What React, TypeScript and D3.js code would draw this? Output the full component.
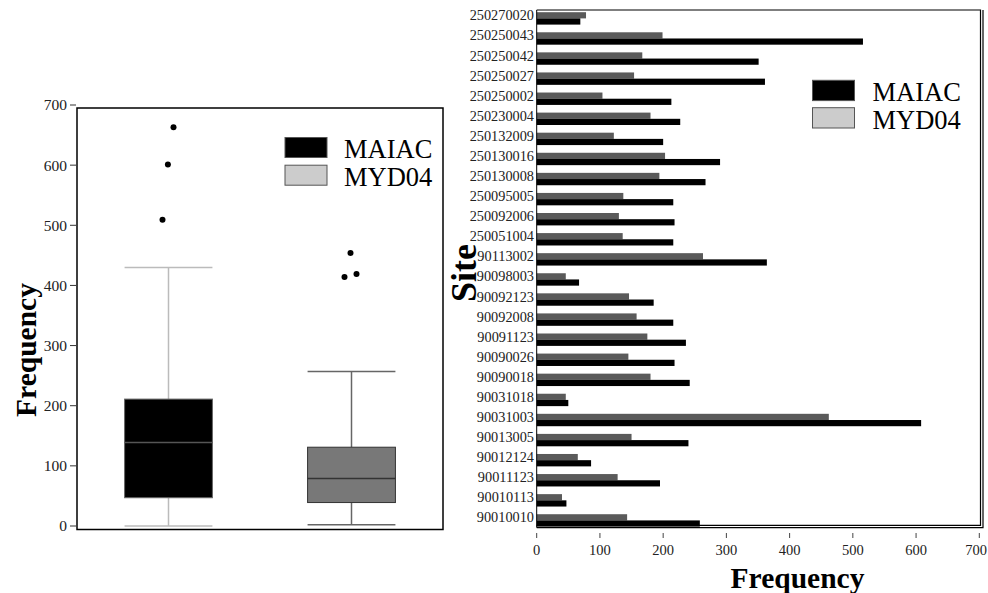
import * as d3 from 'd3'

const sites = [
  '250270020', '250250043', '250250042', '250250027', '250250002', '250230004',
  '250132009', '250130016', '250130008', '250095005', '250092006', '250051004',
  '90113002', '90098003', '90092123', '90092008', '90091123', '90090026',
  '90090018', '90031018', '90031003', '90013005', '90012124', '90011123',
  '90010113', '90010010',
]
const maiacCounts = [
  69, 516, 351, 361, 213, 227, 200, 290, 267, 216, 218, 216,
  364, 67, 185, 216, 236, 218, 242, 50, 608, 240, 86, 195, 47, 258,
]
const myd04Counts = [
  78, 199, 167, 154, 104, 180, 122, 203, 194, 137, 130, 136,
  263, 46, 146, 158, 175, 145, 180, 46, 462, 150, 65, 128, 40, 143,
]

const series = ['MAIAC', 'MYD04']
const whiskerLow = [0, 2]
const q1 = [47, 39]
const median = [139, 79]
const q3 = [211, 131]
const whiskerHigh = [430, 257]
const outliers = [[509, 601, 663], [414, 419, 454]]
const freqTicks = [0, 100, 200, 300, 400, 500, 600, 700]

// styling per series (box plot)
const boxFill = ['#000000', '#787878']
const boxStroke = ['#666666', '#333333']
const medianStroke = ['#555555', '#333333']
const whiskerStroke = ['#bbbbbb', '#666666']
const barFill: Record<string, string> = { MAIAC: '#000000', MYD04: '#5a5a5a' }
const legendFill = ['#000000', '#cccccc']
const outlierJitter = [[-6, -0.6, 5], [-7, 5, -1]]

const serif = '"Liberation Serif", "Times New Roman", serif'
const W = 988

export default function App() {
  // left: box plot
  const bx = d3.scaleBand().domain(series).range([77, 443]).paddingInner(0.52).paddingOuter(0.26)
  const by = d3.scaleLinear().domain([0, 700]).range([526, 105])

  // right: grouped bars
  const rx = d3.scaleLinear().domain([0, 700]).range([536.7, 979.3])
  const ry = d3.scaleBand().domain(sites).range([10, 532.1])
  const sub = d3.scaleBand().domain(['MYD04', 'MAIAC']).range([2.2, 14.6])

  return (
    <svg width={W} height={593} style={{ position: 'absolute', left: 0, top: 0, background: '#fff' }}
      fontFamily={serif}>
      {/* ---------- box plot ---------- */}
      <rect x={77} y={108} width={366} height={421.5} fill="none" stroke="#000" strokeWidth={1.5} />
      {freqTicks.map(t => (
        <g key={t}>
          <line x1={70} x2={76} y1={by(t)} y2={by(t)} stroke="#333" strokeWidth={1} />
          <text x={67} y={by(t)} dy="0.35em" textAnchor="end" fontSize={15.5} fill="#222">{t}</text>
        </g>
      ))}
      <text transform="translate(36,350) rotate(-90)" textAnchor="middle" fontSize={29.5}
        fontWeight="bold" fill="#000">Frequency</text>

      {series.map((s, i) => {
        const x0 = bx(s) || 0
        const w = bx.bandwidth()
        const cx = x0 + w / 2
        return (
          <g key={s}>
            <line x1={cx} x2={cx} y1={by(whiskerHigh[i])} y2={by(q3[i])} stroke={whiskerStroke[i]} strokeWidth={1.5} />
            <line x1={cx} x2={cx} y1={by(q1[i])} y2={by(whiskerLow[i])} stroke={whiskerStroke[i]} strokeWidth={1.5} />
            <line x1={x0} x2={x0 + w} y1={by(whiskerHigh[i])} y2={by(whiskerHigh[i])} stroke={whiskerStroke[i]} strokeWidth={1.5} />
            <line x1={x0} x2={x0 + w} y1={by(whiskerLow[i])} y2={by(whiskerLow[i])} stroke={whiskerStroke[i]} strokeWidth={1.5} />
            <rect x={x0} y={by(q3[i])} width={w} height={by(q1[i]) - by(q3[i])}
              fill={boxFill[i]} stroke={boxStroke[i]} strokeWidth={1} />
            <line x1={x0} x2={x0 + w} y1={by(median[i])} y2={by(median[i])} stroke={medianStroke[i]} strokeWidth={1.5} />
            {outliers[i].map((v, j) => (
              <circle key={j} cx={cx + outlierJitter[i][j]} cy={by(v)} r={3} fill="#000" />
            ))}
          </g>
        )
      })}

      {/* legend (left) */}
      {series.map((s, i) => (
        <g key={s} transform={`translate(285,${137.5 + i * 27.7})`}>
          <rect x={0} y={0} width={42} height={20} fill={legendFill[i]} stroke="#555" strokeWidth={1} />
          <text x={59} y={20.8} fontSize={26.5} fill="#000">{s}</text>
        </g>
      ))}

      {/* ---------- bar chart ---------- */}
      {sites.map((site, i) => {
        const y0 = ry(site) || 0
        return (
          <g key={site}>
            <rect x={rx(0)} y={y0 + (sub('MYD04') || 0)} width={rx(myd04Counts[i]) - rx(0)}
              height={sub.bandwidth()} fill={barFill.MYD04} />
            <rect x={rx(0)} y={y0 + (sub('MAIAC') || 0)} width={rx(maiacCounts[i]) - rx(0)}
              height={sub.bandwidth()} fill={barFill.MAIAC} />
            <text x={534} y={y0 + 5.4} dy="0.35em" textAnchor="end" fontSize={14.3} fill="#222">{site}</text>
          </g>
        )
      })}

      {/* frame with double right/bottom edge */}
      <path d={`M${rx(0)},10 H980.5 V525.3 H${rx(0)}`} fill="none" stroke="#000" strokeWidth={1.2} />
      <path d={`M983,10 V527.6 H${rx(0)}`} fill="none" stroke="#000" strokeWidth={1.2} />
      <line x1={rx(0)} x2={rx(0)} y1={10} y2={527.6} stroke="#000" strokeWidth={1} />

      {freqTicks.map(t => {
        // keep the last label inside the page
        const fits = rx(t) + 12 < W
        return (
          <g key={t}>
            <line x1={rx(t)} x2={rx(t)} y1={533} y2={538} stroke="#444" strokeWidth={1} />
            <text x={fits ? rx(t) : W - 1} y={550} dy="0.35em" textAnchor={fits ? 'middle' : 'end'}
              fontSize={14.5} fill="#222">{t}</text>
          </g>
        )
      })}
      <text x={797.5} y={588} textAnchor="middle" fontSize={29.5} fontWeight="bold" fill="#000">Frequency</text>
      <text transform="translate(476,273) rotate(-90)" textAnchor="middle" fontSize={36}
        fontWeight="bold" fill="#000">Site</text>

      {/* legend (right) */}
      {series.map((s, i) => (
        <g key={s} transform={`translate(812.5,${80.3 + i * 27.4})`}>
          <rect x={0} y={0} width={42} height={20.3} fill={legendFill[i]} stroke="#555" strokeWidth={1} />
          <text x={60} y={20.8} fontSize={26.5} fill="#000">{s}</text>
        </g>
      ))}
    </svg>
  )
}
